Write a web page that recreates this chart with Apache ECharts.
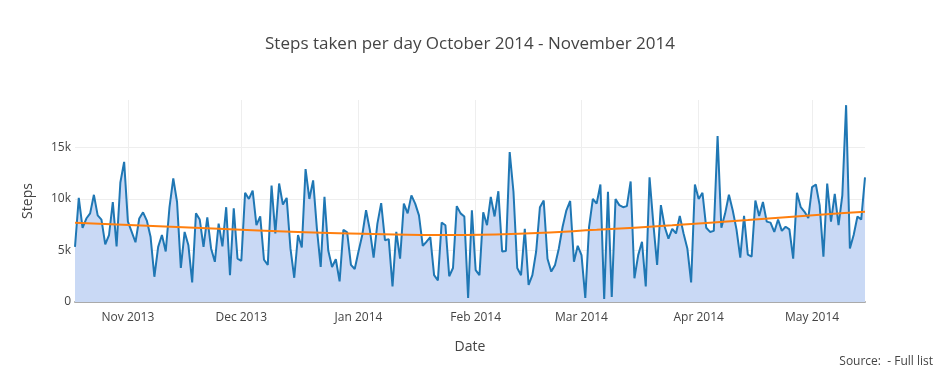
<!DOCTYPE html>
<html>
<head>
<meta charset="utf-8">
<script src="https://cdn.jsdelivr.net/npm/echarts@6/dist/echarts.min.js"></script>
<style>
  html, body { margin: 0; padding: 0; background: #fff; }
  #chart { width: 940px; height: 376px; }
</style>
</head>
<body>
<div id="chart"></div>
<script>
// daily step counts (thousands), one per day starting 2013-10-18
const startDate = "2013-10-18";
const steps = [
  5.35, 10.1, 7.2, 8.1, 8.6, 10.4, 8.4, 8.0, 5.6, 6.5,
  9.7, 5.4, 11.6, 13.6, 7.8, 6.8, 5.8, 8.1, 8.7, 7.9,
  6.3, 2.45, 5.35, 6.5, 4.9, 9.2, 12.0, 9.7, 3.3, 6.8,
  5.5, 1.9, 8.6, 8.0, 5.35, 8.2, 5.2, 3.9, 7.6, 5.4,
  9.2, 2.6, 9.1, 4.2, 4.0, 10.6, 10.0, 10.8, 7.45, 8.3,
  4.1, 3.6, 11.3, 6.65, 11.5, 9.45, 10.1, 5.2, 2.35, 6.5,
  5.3, 12.9, 10.0, 11.8, 7.1, 3.4, 10.2, 5.0, 3.4, 4.15,
  2.0, 7.0, 6.75, 3.6, 3.2, 4.9, 6.5, 8.9, 7.0, 4.3,
  7.6, 9.6, 6.0, 6.1, 1.5, 6.8, 4.2, 9.55, 8.6, 10.35,
  9.55, 8.4, 5.45, 5.85, 6.3, 2.6, 2.1, 7.7, 7.45, 2.5,
  3.3, 9.3, 8.6, 8.3, 0.4, 8.9, 3.1, 2.6, 8.7, 7.45,
  10.2, 8.3, 10.75, 4.9, 4.95, 14.55, 10.7, 3.3, 2.6, 7.1,
  1.65, 2.6, 4.9, 9.2, 9.85, 4.2, 2.95, 3.6, 5.2, 7.3,
  8.9, 9.8, 3.9, 5.45, 4.55, 0.4, 7.3, 10.0, 9.55, 11.4,
  0.3, 10.7, 0.5, 10.0, 9.4, 9.2, 9.3, 11.7, 2.3, 4.55,
  5.85, 1.5, 12.1, 7.6, 3.6, 9.4, 7.3, 6.15, 7.1, 6.65,
  8.35, 6.65, 5.2, 1.9, 11.4, 10.0, 10.6, 7.2, 6.8, 6.9,
  16.1, 7.2, 8.6, 10.4, 8.9, 7.05, 4.3, 8.35, 4.6, 4.4,
  9.85, 8.35, 9.7, 7.8, 7.7, 6.8, 8.0, 6.9, 7.3, 7.05,
  4.2, 10.6, 9.2, 8.75, 8.15, 11.15, 11.4, 9.4, 4.4, 11.5,
  7.8, 10.5, 7.45, 10.35, 19.1, 5.2, 6.5, 8.3, 8.0, 12.1
];

// smooth trend
const trendDates = [
  "2013-10-18", "2013-11-06", "2013-11-25", "2013-12-16", "2014-01-05", "2014-01-25",
  "2014-02-14", "2014-03-05", "2014-03-25", "2014-04-14", "2014-05-04", "2014-05-15"
];
const trendSteps = [7.7, 7.4, 7.1, 6.8, 6.6, 6.5, 6.65, 7.0, 7.45, 7.95, 8.5, 8.75];

// month starts that get a label and a vertical grid line
const monthTicks = ["2013-11-01", "2013-12-01", "2014-01-01", "2014-02-01", "2014-03-01", "2014-04-01", "2014-05-01"];
const yTicks = [0, 5000, 10000, 15000];

const DAY = 86400000;
const t0 = Date.parse(startDate + "T00:00:00Z");
const stepData = steps.map((v, i) => [t0 + i * DAY, Math.round(v * 1000)]);
const trendData = trendDates.map((d, i) => [Date.parse(d + "T00:00:00Z"), Math.round(trendSteps[i] * 1000)]);

const MONTHS = ["Jan", "Feb", "Mar", "Apr", "May", "Jun", "Jul", "Aug", "Sep", "Oct", "Nov", "Dec"];
const font = '"Open Sans", verdana, arial, sans-serif';

const chart = echarts.init(document.getElementById("chart"));

chart.setOption({
  animation: false,
  useUTC: true,
  textStyle: { fontFamily: font },
  title: {
    text: "Steps taken per day October 2014 - November 2014",
    left: "center",
    top: 31,
    textStyle: { fontSize: 17, fontWeight: "normal", color: "#444", fontFamily: font },
  },
  grid: {
    left: 75,
    right: 75,
    top: 100,
    bottom: 74,
  },
  xAxis: {
    type: "time",
    min: t0,
    max: t0 + (steps.length - 1) * DAY,
    minInterval: 28 * DAY,
    maxInterval: 31 * DAY,
    splitNumber: 7,
    name: "Date",
    nameLocation: "middle",
    nameGap: 38,
    nameTextStyle: { fontSize: 14, color: "#444" },
    axisLine: { show: true, lineStyle: { color: "#aaa", width: 2 } },
    axisTick: { show: false },
    axisLabel: {
      color: "#444",
      fontSize: 12,
      margin: 10,
      showMinLabel: false,
      showMaxLabel: false,
      formatter: (v) => {
        const d = new Date(v);
        return MONTHS[d.getUTCMonth()] + " " + d.getUTCFullYear();
      },
    },
    splitLine: { show: false },
  },
  yAxis: {
    type: "value",
    min: 0,
    max: 19600,
    interval: 5000,
    name: "Steps",
    nameLocation: "middle",
    nameGap: 40,
    nameTextStyle: { fontSize: 14, color: "#444" },
    axisLine: { show: false },
    axisTick: { show: false },
    axisLabel: {
      color: "#444",
      fontSize: 12,
      margin: 4,
      showMaxLabel: false,
      formatter: (v) => (yTicks.indexOf(v) < 0 ? "" : v === 0 ? "0" : v / 1000 + "k"),
    },
    splitLine: {
      show: true,
      lineStyle: { color: ["#eee", "#eee", "#eee", "#eee", "rgba(0,0,0,0)"], width: 1 },
    },
  },
  series: [
    {
      // vertical month grid lines, kept behind the filled area
      name: "monthGrid",
      type: "line",
      data: [],
      z: 0,
      silent: true,
      markLine: {
        silent: true,
        z: 0,
        symbol: "none",
        label: { show: false },
        lineStyle: { color: "#eee", width: 1, type: "solid" },
        data: monthTicks.map((d) => ({ xAxis: Date.parse(d + "T00:00:00Z") })),
      },
    },
    {
      name: "Steps",
      type: "line",
      data: stepData,
      z: 2,
      showSymbol: false,
      lineStyle: { color: "#1f77b4", width: 2 },
      itemStyle: { color: "#1f77b4" },
      areaStyle: { color: "#c9d9f5", opacity: 1 },
    },
    {
      name: "Trend",
      type: "line",
      data: trendData,
      smooth: true,
      showSymbol: false,
      lineStyle: { color: "#ff7f0e", width: 2 },
      itemStyle: { color: "#ff7f0e" },
      z: 3,
    },
  ],
  graphic: [
    {
      type: "text",
      right: 7,
      top: 356,
      style: {
        text: "Source:  - Full list",
        fill: "#444",
        fontSize: 12,
        fontFamily: font,
      },
    },
  ],
});
</script>
</body>
</html>
